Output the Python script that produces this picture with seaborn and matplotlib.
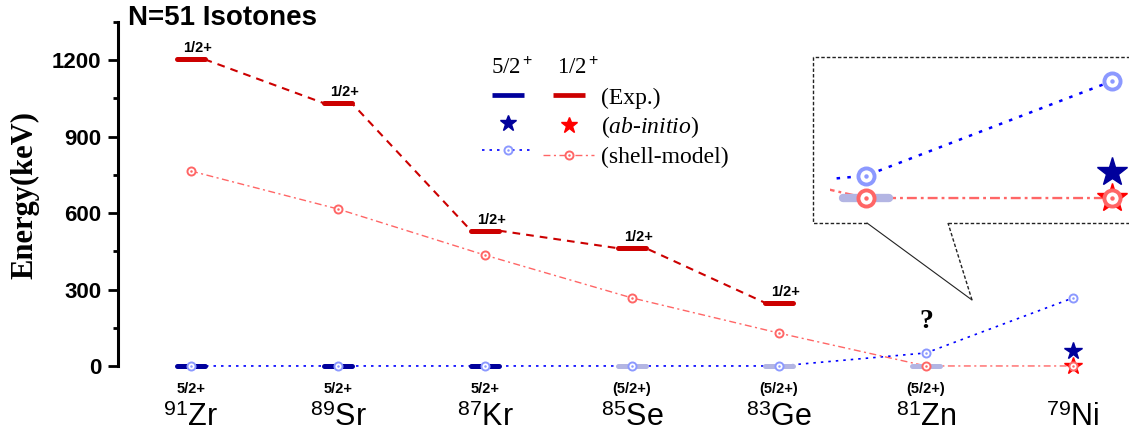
import numpy as np
import pandas as pd
import matplotlib
matplotlib.use("Agg")
import matplotlib.pyplot as plt
import seaborn as sns
from matplotlib.lines import Line2D

# ---------------- data ----------------
isotopes = ["Zr", "Sr", "Kr", "Se", "Ge", "Zn", "Ni"]
mass_numbers = ["91", "89", "87", "85", "83", "81", "79"]

# experimental 1/2+ levels (Zr..Ge)
exp_half = [1203, 1031, 531, 462, 248]
exp_half_labels = ["1/2+", "1/2+", "1/2+", "1/2+", "1/2+"]

# experimental 5/2+ ground states (Zr..Zn); tentative ones drawn pale
exp_five = [0, 0, 0, 0, 0, 0]
exp_five_tentative = [False, False, False, True, True, True]
exp_five_labels = ["5/2+", "5/2+", "5/2+", "(5/2+)", "(5/2+)", "(5/2+)"]

# shell-model
sm_five = [0, 0, 0, 0, 0, 51, 267]
sm_half = [765, 616, 435, 267, 129, 0, 0]

# ab-initio (79Ni)
ab_five = [59]
ab_half = [0]
ab_index = [6]

# ---------------- style ----------------
sns.set_theme(style="white")
plt.rcParams["font.family"] = ["Liberation Sans", "DejaVu Sans"]
plt.rcParams["mathtext.fontset"] = "custom"
plt.rcParams["mathtext.rm"] = "Liberation Sans"
plt.rcParams["mathtext.it"] = "Liberation Serif:italic"
plt.rcParams["mathtext.bf"] = "Liberation Sans:bold"
for k in ("text.color", "axes.labelcolor", "xtick.color", "ytick.color",
          "axes.edgecolor"):
    plt.rcParams[k] = "black"

C_EXP_BLUE = "#00009c"
C_EXP_PALE = "#b3b5e3"
C_EXP_RED = "#cc0000"
C_SM_BLUE_LINE = "#0000ff"
C_SM_BLUE = "#8c99ff"
C_SM_RED = "#ff6666"
C_AB_BLUE = "#00009c"
C_AB_RED = "#ff0000"

W, H = 1129, 445
fig = plt.figure(figsize=(W / 100, H / 100), dpi=100)


def fx(px):
    return px / W


def fy(py):
    return 1 - py / H


ax = fig.add_axes([fx(118), fy(400), fx(1129 - 118), (400 - 22) / H])

pos = np.arange(len(isotopes))
hw = 0.095

df_sm = pd.DataFrame({"pos": pos, "five": sm_five, "half": sm_half})


def draw_levels(a, inset=False):
    # experimental 1/2+ dashed connection through bar ends
    xs, ys = [], []
    for i, v in enumerate(exp_half):
        xs += [pos[i] - hw, pos[i] + hw]
        ys += [v, v]
    if not inset:
        a.plot(xs, ys, color=C_EXP_RED, lw=1.5, linestyle=(0, (3.7, 2.9)), zorder=2)
    # shell-model lines
    lw_b = 1.2 if not inset else 1.8
    lw_r = 1.0 if not inset else 1.7
    sns.lineplot(data=df_sm, x="pos", y="five", ax=a, color=C_SM_BLUE_LINE, lw=lw_b,
                 linestyle=(0, (1.5, 3.0)) if not inset else (0, (1.4, 2.9)),
                 sort=False, zorder=2, legend=False)
    sns.lineplot(data=df_sm, x="pos", y="half", ax=a, color=C_SM_RED, lw=lw_r,
                 linestyle=(0, (5, 2.5, 1.5, 2.5)) if not inset else (0, (4.2, 1.7, 1.2, 1.7)),
                 sort=False, zorder=2, legend=False)
    # experimental bars
    blw = 3.6 if not inset else 6
    for i, v in enumerate(exp_half):
        a.plot([pos[i] - hw, pos[i] + hw], [v, v], color=C_EXP_RED, lw=blw,
               solid_capstyle="round", zorder=3)
    for i, v in enumerate(exp_five):
        c = C_EXP_PALE if exp_five_tentative[i] else C_EXP_BLUE
        a.plot([pos[i] - hw, pos[i] + hw], [v, v], color=c, lw=blw,
               solid_capstyle="round", zorder=3)
    # ab-initio stars
    sms = 13 if not inset else 22
    a.plot(pos[ab_index], ab_half, linestyle="none", marker="*", ms=sms,
           color=C_AB_RED, mec=C_AB_RED, zorder=4)
    a.plot(pos[ab_index], ab_five, linestyle="none", marker="*", ms=sms,
           color=C_AB_BLUE, mec=C_AB_BLUE, zorder=4)
    # shell-model markers (open circle with centre dot)
    ms, mew, dms = (5.8, 1.4, 1.8) if not inset else (11.6, 2.8, 3.2)
    for vals, col in ((sm_five, C_SM_BLUE), (sm_half, C_SM_RED)):
        a.plot(pos, vals, linestyle="none", marker="o", ms=ms, mew=mew,
               mfc="white", mec=col, zorder=5)
        a.plot(pos, vals, linestyle="none", marker="o", ms=dms, mew=0,
               mfc=col, zorder=6)


draw_levels(ax)

ax.set_xlim(-0.4966, 6.381)
ax.set_ylim(-133.6, 1350)
ax.set_xlabel("")
ax.set_ylabel("")

for s in ("top", "right", "bottom"):
    ax.spines[s].set_visible(False)
ax.spines["left"].set_linewidth(2.2)
ax.spines["left"].set_color("black")
ax.spines["left"].set_bounds(0, 1350)

ax.set_yticks([0, 300, 600, 900, 1200])
ax.set_yticks([150, 450, 750, 1050, 1350], minor=True)
ax.tick_params(axis="y", which="major", length=7, width=2.0, direction="out",
               pad=5, labelsize=16, left=True, color="black", labelcolor="black")
ax.tick_params(axis="y", which="minor", length=3.6, width=2.0, direction="out",
               left=True, color="black")
for lab in ax.get_yticklabels():
    lab.set_fontweight("bold")

ax.set_xticks(pos)
ax.set_xticklabels([f"$^{{{m}}}${el}" for m, el in zip(mass_numbers, isotopes)],
                   fontsize=22, color="black")
ax.tick_params(axis="x", length=0, pad=2, bottom=False)

# level labels
for i, v in enumerate(exp_half):
    ax.annotate(exp_half_labels[i], (pos[i], v), xytext=(4.5, 8),
                textcoords="offset points", ha="center", va="center",
                fontsize=10.5, fontweight="bold", color="black", zorder=7)
for i, v in enumerate(exp_five):
    ax.annotate(exp_five_labels[i], (pos[i], v), xytext=(0, -16.5),
                textcoords="offset points", ha="center", va="center",
                fontsize=10.5, fontweight="bold", color="black")
ax.annotate("?", (pos[5], 0), xytext=(0, 32), textcoords="offset points",
            ha="center", va="center", fontsize=20, fontweight="bold",
            family="Liberation Serif", color="black")

# title and y label
fig.text(fx(128), fy(5), "N=51 Isotones", ha="left", va="top",
         fontsize=20, fontweight="bold", color="black")
fig.text(fx(25), fy(195), "Energy(keV)", rotation=90, ha="center", va="center",
         fontsize=22, fontweight="bold", family="Liberation Serif", color="black")

# ---------------- legend ----------------
h_be = Line2D([], [], linestyle="none", marker="_", ms=23, mew=3.4, color=C_EXP_BLUE)
h_re = Line2D([], [], linestyle="none", marker="_", ms=23, mew=3.4, color=C_EXP_RED)
h_bs = Line2D([], [], linestyle="none", marker="*", ms=12, color=C_AB_BLUE)
h_rs = Line2D([], [], linestyle="none", marker="*", ms=12, color=C_AB_RED)
h_bm = (Line2D([], [], color=C_SM_BLUE_LINE, lw=1.2, linestyle=(0, (1.5, 3.0)),
               marker="o", ms=5.8, mew=1.4, mfc="white", mec=C_SM_BLUE),
        Line2D([], [], linestyle="none", marker="o", ms=1.8, mew=0, mfc=C_SM_BLUE))
h_rm = (Line2D([], [], color=C_SM_RED, lw=1.0, linestyle=(0, (5, 2.5, 1.5, 2.5)),
               marker="o", ms=5.8, mew=1.4, mfc="white", mec=C_SM_RED),
        Line2D([], [], linestyle="none", marker="o", ms=1.8, mew=0, mfc=C_SM_RED))

leg = ax.legend([h_be, h_bs, h_bm, h_re, h_rs, h_rm],
                ["", "", "", "(Exp.)", r"($\it{ab}$-$\it{initio}$)", "(shell-model)"],
                ncol=2, loc="upper left", bbox_to_anchor=(fx(482), fy(87)),
                bbox_transform=fig.transFigure, frameon=False,
                prop={"family": "Liberation Serif", "size": 17},
                handlelength=2.16, handletextpad=0.3, columnspacing=0.13,
                labelspacing=0.25, borderpad=0, borderaxespad=0)
for t in leg.get_texts():
    t.set_color("black")
fig.text(fx(512), fy(68), "5/2$^+$", ha="center", va="center", fontsize=16.5,
         family="Liberation Serif", color="black")
fig.text(fx(578), fy(68), "1/2$^+$", ha="center", va="center", fontsize=16.5,
         family="Liberation Serif", color="black")

# ---------------- inset ----------------
axi = fig.add_axes([fx(830), fy(223), fx(1129 - 830), (223 - 57) / H])
draw_levels(axi, inset=True)
axi.set_xlim(5 - 36 / 246, 6 + 17 / 246)
axi.set_ylim(-57, 322)
axi.set_axis_off()
axi.patch.set_alpha(0)

box_kw = dict(transform=fig.transFigure, color="#222222", lw=1.0,
              linestyle=(0, (2.5, 1.5)))
fig.add_artist(Line2D([fx(867), fx(813), fx(813), fx(1135)],
                      [fy(223), fy(223), fy(57), fy(57)], **box_kw))
fig.add_artist(Line2D([fx(948), fx(1135)], [fy(223), fy(223)], **box_kw))
fig.add_artist(Line2D([fx(867), fx(972)], [fy(223), fy(300)],
                      transform=fig.transFigure, color="#222222", lw=0.8))
fig.add_artist(Line2D([fx(972), fx(948)], [fy(300), fy(223)], **box_kw))

fig.savefig("out.png", dpi=100)
